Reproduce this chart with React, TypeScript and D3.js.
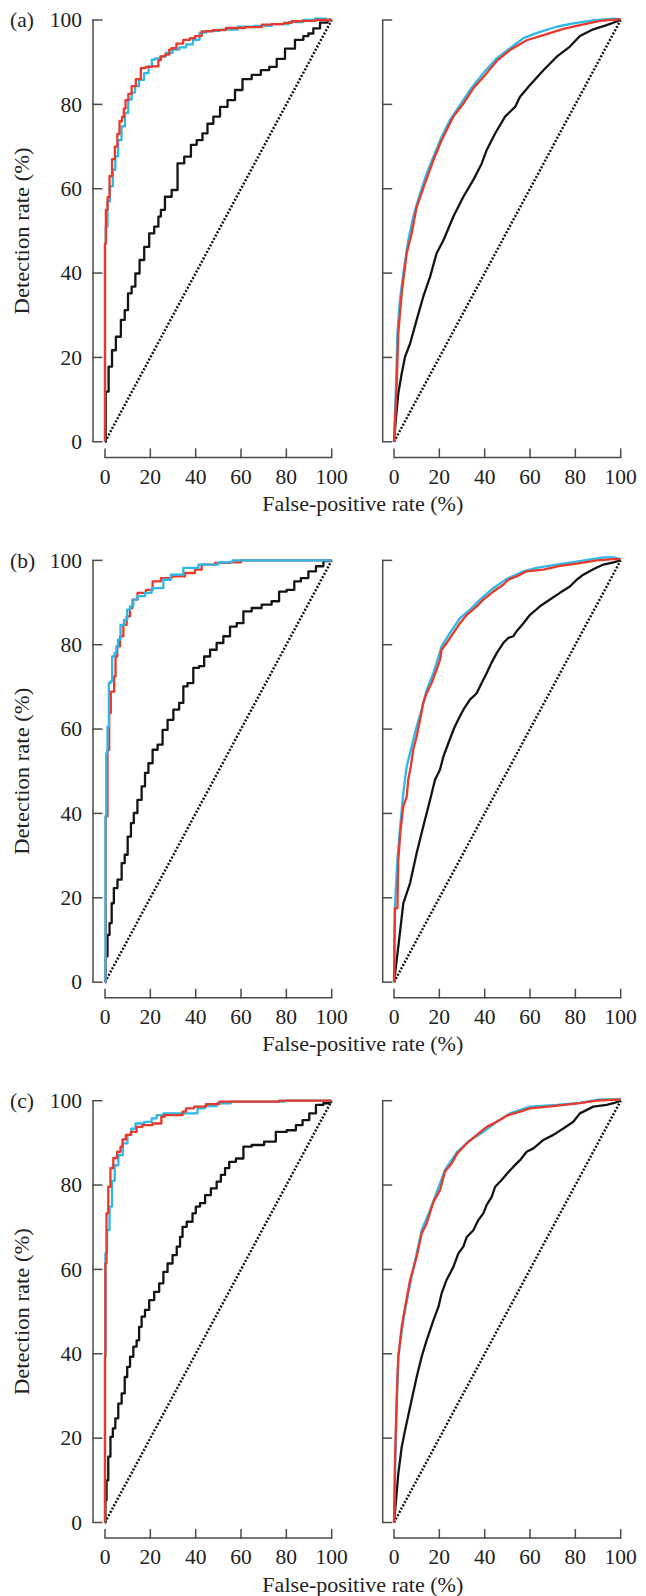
import React from 'react';
import * as d3 from 'd3';

type Pt = [number, number];

// axis ticks and texts
const ticks = [0, 20, 40, 60, 80, 100];
const rowLabels = ['(a)', '(b)', '(c)'];
const xTitle = 'False-positive rate (%)';
const yTitle = 'Detection rate (%)';

// (a) left
const aLeftRed: Pt[] = [[0,0],[0,47],[0.8,55],[1.5,58],[2.5,63],[3.7,67],[5,70],[5.9,73],[6.9,76],[8.1,77],[8.5,79],[9.6,81],[11,82.5],[12.5,84.3],[14.7,86],[16.9,88.6],[19,88.9],[22.8,89],[24.3,90.5],[25,91.4],[28,91.8],[28.7,93],[30,93.3],[33,94.4],[36,95.3],[39,95.7],[40.4,96.2],[44.9,97.3],[50,97.6],[56.6,98.1],[67,98.3],[71.3,98.9],[76,99],[81.6,99.3],[83,99.7],[90,99.8],[96,100],[100,100]];
const aLeftBlue: Pt[] = [[0,0],[0,47],[0.7,51],[1.5,57],[2.9,60.6],[4,64.5],[5.1,67.7],[6.5,71.5],[8.1,74.8],[9.5,78],[11,81.1],[12.5,82.8],[14,84.3],[16,85.8],[18.4,87.4],[20,89],[21.3,90.6],[23,90.9],[25.7,91.4],[28,92.2],[31.6,93],[34,93.5],[37.5,94.2],[40,95.3],[43.4,97],[46,97.4],[55,97.7],[62,98.4],[70,98.6],[77,99],[85,99.5],[90,100],[95,100.3],[100,100]];
const aLeftBlack: Pt[] = [[0,0],[0.7,11.9],[2.5,17.8],[3.7,21.7],[5.9,24.9],[8.1,28.9],[9.3,31.2],[11,35.2],[12.5,36.8],[14.3,39.9],[16.2,43.1],[18.4,46.2],[20.6,49.4],[22.8,51],[24.3,53.4],[25,55],[27.9,58.1],[30.9,59.7],[33.1,66],[36.8,67.6],[39,70.4],[41.9,71.5],[44.1,73.1],[46.3,75.4],[49.3,77.1],[52.2,79.4],[55.9,81],[58.8,83.4],[62.5,86],[66.9,87],[70.6,88.1],[74.3,88.9],[77.2,90.8],[81.6,93.2],[86,95.3],[89,96.2],[90.4,96.8],[93.4,98],[96.3,99.4],[100,100]];

// (a) right
const aRightRed: Pt[] = [[0,0],[1.2,13.8],[1.9,25.7],[3.4,35.2],[5.6,44.7],[7.8,49.4],[10,55.7],[13.7,61.3],[17.4,66.8],[21,71.5],[26.2,77.1],[30.6,80.2],[35,83.8],[40.9,87.4],[45.3,90.3],[51.2,92.9],[58.5,95.2],[65.9,96.4],[74.7,97.9],[82,98.8],[90.9,99.8],[100,100.2]];
const aRightBlue: Pt[] = [[0,0],[0.9,13.8],[1.5,25.7],[2.6,33.6],[4.1,39.9],[6.3,47.8],[8.5,53.4],[11.5,58.9],[14.4,63.6],[17.4,67.6],[21,72.3],[24.7,76.3],[29.1,79.8],[33.5,83.4],[39.4,87.4],[45.3,90.9],[51.2,93.3],[57.1,95.7],[64.4,97.2],[71.8,98.4],[79.1,99.2],[87.9,99.9],[96.8,100.3],[100,100.2]];
const aRightBlack: Pt[] = [[0,0],[0.9,5.9],[1.9,11.5],[3.4,16.2],[4.9,20.2],[7.1,23.3],[10,28.9],[12.9,34.4],[15.9,39.1],[18.8,44.7],[21.8,47.8],[26.2,53.4],[30.6,58.1],[35,62.1],[38.7,66],[40.9,69.2],[44.6,73.1],[49,77.1],[53.4,79.4],[55.6,81.8],[60,84.6],[65.9,88.1],[71.8,91.3],[77.6,93.7],[82,96.2],[87.9,97.8],[93.8,98.8],[100,100]];

// (b) left
const bLeftRed: Pt[] = [[0,0],[0.7,39.3],[1.5,55],[2.2,63.8],[2.9,68.9],[3.7,68.9],[4.4,72.5],[4.9,77.2],[5.9,79.6],[7.4,82],[8.8,84.7],[10.3,86.7],[11.8,88.7],[12.5,90.7],[16.2,92.3],[19.9,93],[22.1,95],[27.2,95.8],[31.6,96.2],[39,97],[40.4,97.8],[44.9,99],[52.2,99.4],[58.1,99.5],[61.8,100],[100,100]];
const bLeftBlue: Pt[] = [[0,0],[0.4,39.3],[0.7,54.3],[1.5,60.6],[1.9,70.9],[2.9,71.3],[3.4,77.2],[4.9,78],[5.1,79.6],[6.3,81.2],[7.4,84.7],[9.3,85.9],[10.3,88.3],[11.8,89.1],[13.2,90.7],[15.4,91.5],[19.9,92.3],[21.3,93.4],[25,93.4],[26.5,95.4],[31.6,96.6],[37.5,98.2],[44.9,99],[55.1,99.5],[57.4,100],[100,100]];
const bLeftBlack: Pt[] = [[0,0],[0.7,6.1],[1.5,11.2],[2.5,14],[3.4,18.7],[4.4,22.3],[6.6,24.3],[8.1,28.2],[9.3,30.2],[10.7,34.5],[12.2,37.7],[13.2,40.1],[15.4,43.2],[16.9,46.4],[18.4,49.6],[19.9,51.9],[22.1,55.1],[24.3,56.3],[26.5,59.8],[28.7,62.2],[31.6,64.6],[33.8,66.2],[35.3,70.1],[37.5,70.9],[40.4,74.5],[42.6,74.9],[44.9,77.2],[47.8,78.8],[50.7,80.4],[53.7,82],[56.6,84.3],[59.6,85.1],[62.5,87.9],[66.9,88.7],[71.3,89.5],[75.7,90.3],[77.9,92.6],[82.4,93],[84.6,95],[88.2,95.8],[91.2,97.4],[94.9,98.6],[97.8,99.8],[100,100]];

// (b) right
const bRightRed: Pt[] = [[0,0],[0.4,17.5],[1.5,17.5],[1.9,29],[2.9,36.1],[4.1,41.7],[5.6,44],[6.3,48],[7.4,51.1],[8.5,55.1],[10,58.3],[11.5,62.2],[12.9,66.2],[14.4,68.5],[16.6,70.9],[18.8,74.1],[20.3,76.4],[21,78.8],[23.2,80.4],[26.2,82.8],[29.1,85.1],[32.1,87.1],[36.5,89.1],[39.4,90.7],[43.8,92.6],[48.2,94.2],[50.4,95.4],[54.1,96.2],[58.5,97.4],[65.9,97.8],[73.2,98.7],[80.6,99.2],[89.4,100],[96.8,100.3],[100,100.3]];
const bRightBlue: Pt[] = [[0,0],[0.4,18],[1.5,29],[2.6,36.1],[4.1,44.8],[5.6,51.1],[7.8,55.9],[10,60.6],[12.2,64.6],[14.4,69.3],[17.4,73.3],[21,79.6],[24.7,82.8],[29.1,86.3],[33.5,88.3],[37.9,90.7],[43.8,93.4],[49.7,95.6],[57.1,97.4],[62.9,98.2],[71.8,99],[82,99.8],[92.4,100.7],[96.8,100.7],[100,100.3]];
const bRightBlack: Pt[] = [[0,0],[1.2,5.3],[2.6,11.6],[4.1,18.7],[7.1,23.5],[10,30.6],[12.9,36.9],[15.9,43.2],[18.1,48],[20.3,50.4],[21.8,53.5],[24,56.7],[26.5,60.2],[28.7,62.6],[30.6,64.6],[33.5,67],[36.5,68.5],[37.9,70.1],[40.9,73.3],[43,75.7],[45.3,78],[48.2,80.4],[50.4,81.6],[52.6,82],[54.1,83.2],[57.1,85.1],[60,87.1],[64.4,89.1],[68.8,90.7],[73.2,92.3],[77.6,93.8],[80.6,95.4],[83.5,96.6],[87.9,97.9],[92.4,99],[96.8,99.5],[100,100]];

// (c) left
const cLeftRed: Pt[] = [[0,0],[0,39.3],[0.3,61.4],[1,73.3],[1.9,79.6],[2.9,84],[4.4,86.4],[6.3,87.9],[7.4,89.1],[8.1,90.8],[10.3,91.9],[12.5,92.6],[15.4,93.8],[17.6,94.2],[24.3,94.6],[25.4,96.2],[27.2,96.6],[33.8,96.6],[34.6,97.4],[36.8,98.2],[41.9,98.6],[47.1,99.2],[53.7,99.8],[100,100]];
const cLeftBlue: Pt[] = [[0,0],[0,39.3],[0.4,63.8],[1.5,69.3],[2.5,74.9],[3.7,81],[4.9,84.7],[6.9,87.1],[8.8,89.9],[11,91.9],[12.2,93.4],[14.7,94.6],[19.9,95],[21.3,95.8],[24.3,96.6],[27.2,97],[39.7,97],[41.9,98.2],[46.3,98.7],[52.2,99.4],[58.8,99.8],[100,100]];
const cLeftBlack: Pt[] = [[0,0],[0.4,5.3],[1,10],[1.9,15.6],[2.9,20.3],[4,22.3],[5.1,24.7],[6.6,28.2],[8.1,30.6],[9.3,34.5],[10.3,36.9],[11.8,39.3],[13.2,41.7],[14.7,43.2],[15.4,46.4],[16.9,48.8],[18.4,50.4],[20.6,52.7],[22.8,54.7],[25,56.7],[26.5,59.4],[28.7,61.4],[30.9,63.4],[32.4,65.4],[33.8,67.7],[34.6,70.1],[37.5,71.3],[39.7,73.3],[40.4,74.9],[43.4,75.7],[44.9,77.6],[48.5,79.2],[50,80.8],[52.2,82.4],[53.7,84],[55.9,85.5],[59.6,86.3],[62.5,89.1],[66.9,89.5],[73.5,90.3],[77.2,92.6],[83.1,93],[85.3,94.2],[89,95.4],[91.2,97],[94.9,99],[97.8,99.4],[100,99.6]];

// (c) right
const cRightRed: Pt[] = [[0,0],[0.4,14],[1.2,29.8],[1.9,39.3],[3.4,46.4],[4.9,51.1],[7.1,57.5],[10,63],[12.2,68.5],[14.4,70.9],[17.4,76],[20.3,78.8],[22.5,83.2],[25.4,85.1],[27.9,87.5],[32.1,89.9],[36.5,91.9],[40.9,93.8],[45.3,95],[50.4,96.6],[55.6,97.4],[60,98.2],[70.3,98.7],[82,99.4],[89.4,100],[100,100.3]];
const cRightBlue: Pt[] = [[0,0],[0.9,21.9],[1.9,39.3],[4.1,48],[6.3,54.3],[7.8,58.3],[10,63.8],[12.2,69.3],[15.9,74.1],[20.3,80.4],[22.5,83.6],[27.9,87.9],[33.7,90.7],[39.4,92.6],[45.3,95],[51.2,97],[60,98.6],[71.8,99],[82,99.5],[90.9,100.3],[100,100.3]];
const cRightBlack: Pt[] = [[0,0],[0.9,5.3],[1.9,11.6],[3.4,17.9],[4.9,21.9],[7.1,27.4],[10,34.5],[12.2,39.3],[14.4,43.2],[17.4,48],[19.6,51.1],[21,54.3],[23.2,57.5],[26.2,60.6],[28.4,63.8],[30.6,65.4],[32.1,67.7],[35,69.3],[37.2,71.7],[39.4,73.3],[40.9,75.3],[43.1,77.2],[44.6,79.6],[47.5,81.2],[50,82.8],[52.6,84.3],[55.6,85.9],[58.5,87.9],[61.5,88.7],[65.9,90.7],[70.3,91.9],[74.7,93.4],[79.1,95],[82,97],[87.9,98.6],[93.8,99],[96.8,99.4],[100,100]];

const diagonal: Pt[] = [[0, 0], [100, 100]];

const RED = '#e8392b';
const BLUE = '#2cb8e8';
const BLACK = '#141414';
const AXIS = '#4a4a4a';
const FONT = "'Liberation Serif', 'Times New Roman', serif";
const FS = 21.5;

const rows = [
  { left: { red: aLeftRed, blue: aLeftBlue, black: aLeftBlack, blueTop: false },
    right: { red: aRightRed, blue: aRightBlue, black: aRightBlack, blueTop: false } },
  { left: { red: bLeftRed, blue: bLeftBlue, black: bLeftBlack, blueTop: true },
    right: { red: bRightRed, blue: bRightBlue, black: bRightBlack, blueTop: false } },
  { left: { red: cLeftRed, blue: cLeftBlue, black: cLeftBlack, blueTop: false },
    right: { red: cRightRed, blue: cRightBlue, black: cRightBlack, blueTop: false } },
];

const cols = [
  { axisX: 93, x0: 105, x1: 331.7, labels: true, stepped: true },
  { axisX: 382.7, x0: 394, x1: 620.7, labels: false, stepped: false },
];

const ROW_TOP = 20;
const ROW_STEP = 540.35;
const PLOT_H = 421.8;

type Series = { red: Pt[]; blue: Pt[]; black: Pt[]; blueTop: boolean };

function Panel({ top, col, s }: { top: number; col: typeof cols[0]; s: Series }) {
  const x = d3.scaleLinear().domain([0, 100]).range([col.x0, col.x1]);
  const y = d3.scaleLinear().domain([0, 100]).range([top + PLOT_H, top]);
  const curve = col.stepped ? d3.curveStep : d3.curveLinear;
  const line = d3.line<Pt>().x(d => x(d[0])).y(d => y(d[1])).curve(curve);
  const straight = d3.line<Pt>().x(d => x(d[0])).y(d => y(d[1]));
  const xAxisY = y(0) + 15.6;

  const redPath = <path d={line(s.red) || ''} fill="none" stroke={RED} strokeWidth={2.3} strokeLinejoin="round" />;
  const bluePath = <path d={line(s.blue) || ''} fill="none" stroke={BLUE} strokeWidth={2.3} strokeLinejoin="round" />;

  return (
    <g>
      {/* y axis: bracket with inward ticks */}
      <line x1={col.axisX} x2={col.axisX} y1={y(100)} y2={y(0)} stroke={AXIS} strokeWidth={1.5} />
      {ticks.map(t => (
        <line key={'yt' + t} x1={col.axisX - 0.75} x2={col.axisX + 9.5} y1={y(t)} y2={y(t)} stroke={AXIS} strokeWidth={1.5} />
      ))}
      {col.labels && ticks.map(t => (
        <text key={'yl' + t} x={82} y={y(t) + 7.3} textAnchor="end" fontFamily={FONT} fontSize={FS} fill="#222">{t}</text>
      ))}
      {/* x axis */}
      <line x1={x(0)} x2={x(100)} y1={xAxisY} y2={xAxisY} stroke={AXIS} strokeWidth={1.5} />
      {ticks.map(t => (
        <line key={'xt' + t} x1={x(t)} x2={x(t)} y1={xAxisY + 0.75} y2={xAxisY - 9} stroke={AXIS} strokeWidth={1.5} />
      ))}
      {ticks.map(t => (
        <text key={'xl' + t} x={x(t)} y={xAxisY + 26.3} textAnchor="middle" fontFamily={FONT} fontSize={FS} fill="#222">{t}</text>
      ))}
      {/* curves */}
      <path d={straight(diagonal) || ''} fill="none" stroke={BLACK} strokeWidth={2.5} strokeDasharray="2 1.7" />
      <path d={line(s.black) || ''} fill="none" stroke={BLACK} strokeWidth={2.3} strokeLinejoin="round" />
      {s.blueTop ? redPath : bluePath}
      {s.blueTop ? bluePath : redPath}
    </g>
  );
}

export default function App() {
  const xTitleCenter = (cols[0].x0 + cols[1].x1) / 2;
  return (
    <svg width={646} height={1596} style={{ position: 'absolute', left: 0, top: 0, background: '#fff' }}>
      <rect width={646} height={1596} fill="#fff" />
      {rows.map((r, i) => {
        const top = ROW_TOP + i * ROW_STEP;
        const bottom = top + PLOT_H;
        return (
          <g key={i}>
            <text x={10} y={top + 7.3} fontFamily={FONT} fontSize={FS} fill="#222">{rowLabels[i]}</text>
            <text transform={`translate(28.5,${(top + bottom) / 2}) rotate(-90)`} textAnchor="middle"
              fontFamily={FONT} fontSize={FS} fill="#222" textLength={167} lengthAdjust="spacingAndGlyphs">{yTitle}</text>
            <Panel top={top} col={cols[0]} s={r.left} />
            <Panel top={top} col={cols[1]} s={r.right} />
            <text x={xTitleCenter} y={bottom + 15.6 + 53.5} textAnchor="middle" fontFamily={FONT} fontSize={FS}
              fill="#222" textLength={201} lengthAdjust="spacingAndGlyphs">{xTitle}</text>
          </g>
        );
      })}
    </svg>
  );
}
